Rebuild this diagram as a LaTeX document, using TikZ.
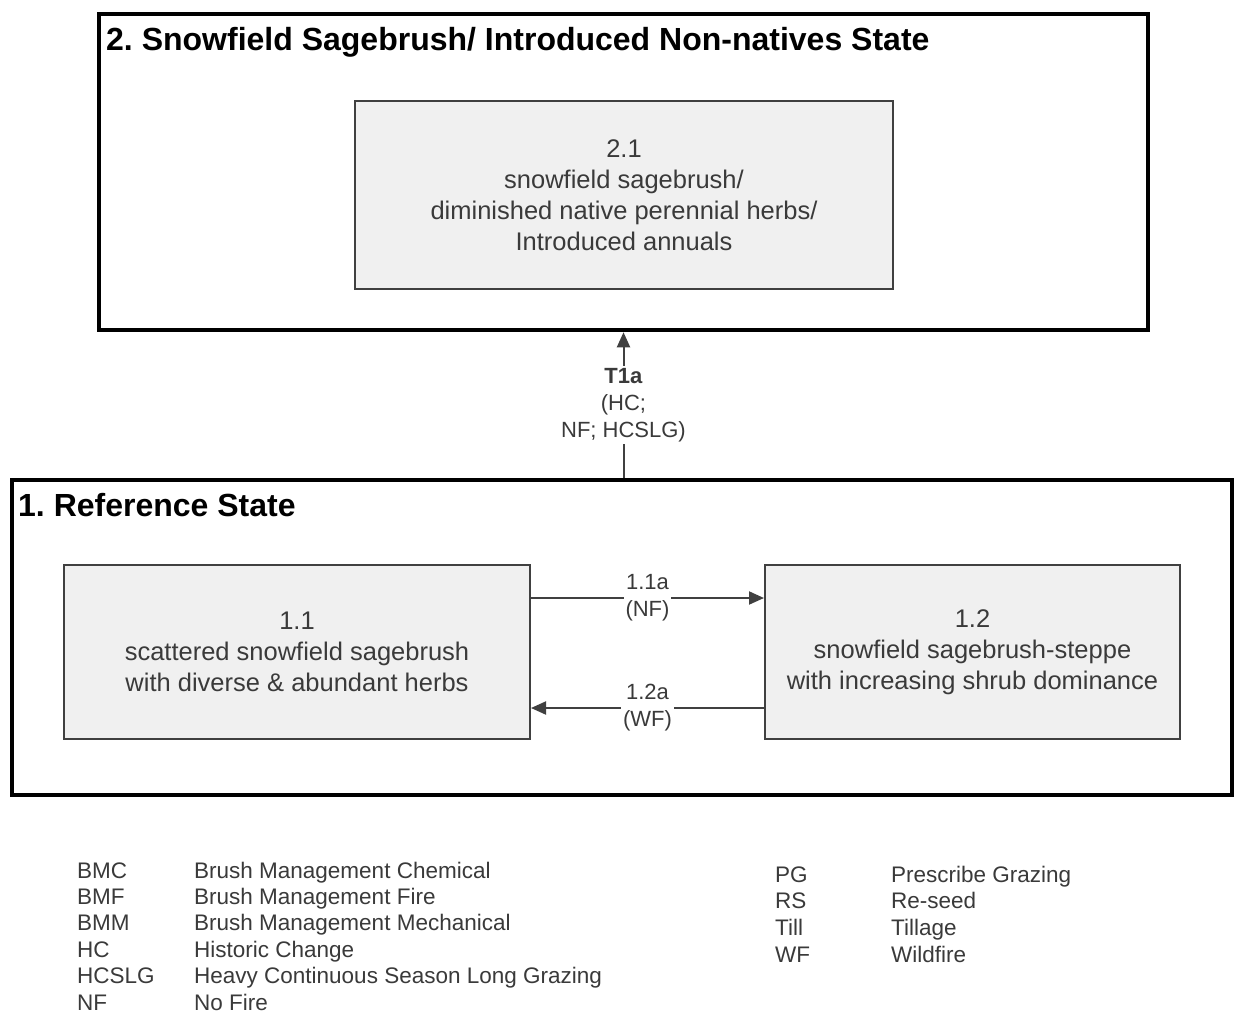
\documentclass[tikz,border=0pt]{standalone}
\usepackage{fontspec}
\setmainfont{Liberation Sans}
\usetikzlibrary{arrows.meta}
\definecolor{boxfill}{HTML}{F0F0F0}
\definecolor{txt}{HTML}{3A3A3A}
\tikzset{
  phasebox/.style={draw=black!75, line width=2pt, fill=boxfill, text=txt, align=center,
     font=\fontsize{25.5}{31}\selectfont, inner sep=0pt},
  statetitle/.style={anchor=base west, inner sep=0pt, font=\fontsize{32}{38}\selectfont\bfseries},
  conn/.style={draw=black!75, line width=2pt, -{Triangle[length=15pt,width=13pt]}},
  lbl/.style={fill=white, text=txt, align=center, inner sep=2pt, font=\fontsize{22}{27}\selectfont},
  lgd/.style={anchor=base west, inner sep=0pt, text=txt, font=\fontsize{22.5}{27}\selectfont}
}
\frenchspacing
\begin{document}
\frenchspacing
\begin{tikzpicture}[x=1pt,y=-1pt]
\useasboundingbox[fill=white] (0,0) rectangle (1234,1015);
% state 2
\node[draw=black, line width=4.5pt, minimum width=1049pt, minimum height=316pt, inner sep=0pt] (s2) at (623.5,172) {};
\node[statetitle] (s2t) at (106,50) {2. Snowfield Sagebrush/ Introduced Non-natives State};
\node[phasebox, minimum width=538pt, minimum height=188pt] (p21) at (624,195)
  {2.1\\snowfield sagebrush/\\diminished native perennial herbs/\\Introduced annuals};
% state 1
\node[draw=black, line width=4.5pt, minimum width=1220pt, minimum height=315pt, inner sep=0pt] (s1) at (622,637.5) {};
\node[statetitle] (s1t) at (18,516) {1. Reference State};
\node[phasebox, minimum width=466pt, minimum height=174pt] (p11) at (297,652)
  {1.1\\scattered snowfield sagebrush\\with diverse \& abundant herbs};
\node[phasebox, minimum width=415pt, minimum height=174pt] (p12) at (972.5,652)
  {1.2\\snowfield sagebrush-steppe\\with increasing shrub dominance};
% transitions
\draw[conn] (s2.south |- s1.north) -- node[lbl]{\textbf{T1a}\\(HC;\\NF; HCSLG)} (s2.south);
\draw[conn] ([yshift=54pt]p11.east) -- node[lbl]{1.1a\\(NF)} ([yshift=54pt]p12.west);
\draw[conn] ([yshift=-56pt]p12.west) -- node[lbl]{1.2a\\(WF)} ([yshift=-56pt]p11.east);
% legend
\foreach \ab/\de [count=\i] in {BMC/Brush Management Chemical, BMF/Brush Management Fire,
   BMM/Brush Management Mechanical, HC/Historic Change,
   HCSLG/Heavy Continuous Season Long Grazing, NF/No Fire}{
  \node[lgd] (la\i) at (77,{878+26.4*(\i-1)}) {\ab};
  \node[lgd] (ld\i) at (194,{878+26.4*(\i-1)}) {\de};
}
\foreach \ab/\de [count=\i] in {PG/Prescribe Grazing, RS/Re-seed, Till/Tillage, WF/Wildfire}{
  \node[lgd] (ra\i) at (775,{882+26.7*(\i-1)}) {\ab};
  \node[lgd] (rd\i) at (891,{882+26.7*(\i-1)}) {\de};
}
\end{tikzpicture}
\end{document}
